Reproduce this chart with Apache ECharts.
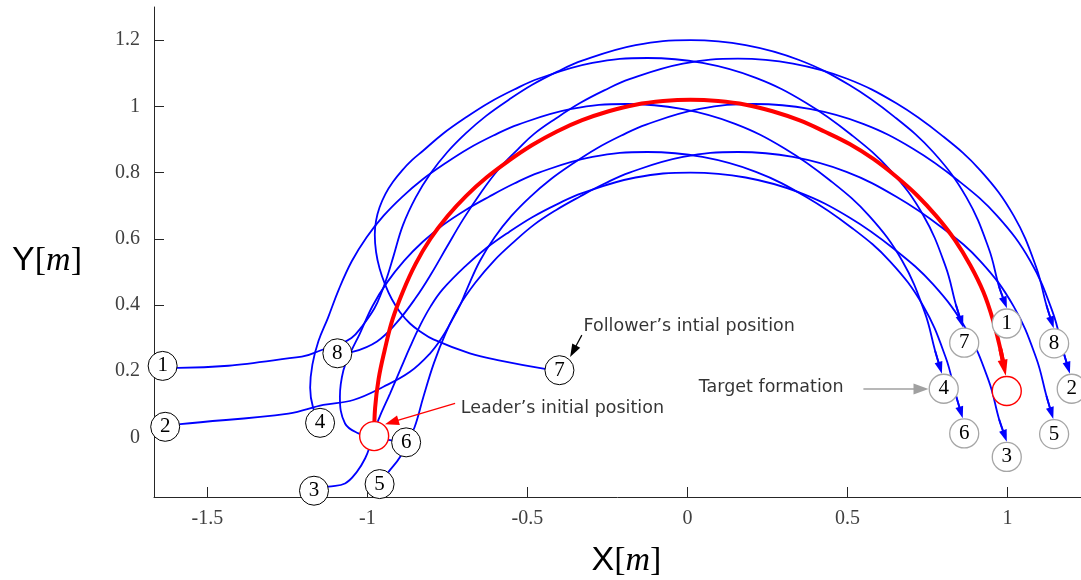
<!DOCTYPE html>
<html><head><meta charset="utf-8">
<script src="https://cdn.jsdelivr.net/npm/echarts/dist/echarts.min.js"></script>
<style>html,body{margin:0;padding:0;background:#fff}#c{width:1081px;height:580px}</style>
</head><body><div id="c"></div>
<script>
// ---- tick labels ----
const xTicks = [-1.5, -1, -0.5, 0, 0.5, 1];
const yTicks = [0, 0.2, 0.4, 0.6, 0.8, 1, 1.2];

// ---- leader trajectory ----
const leaderPath = [[-0.979,0.004],[-0.976,0.089],[-0.965,0.177],[-0.946,0.264],[-0.922,0.355],[-0.889,0.441],[-0.849,0.525],[-0.803,0.60],[-0.75,0.668],[-0.692,0.729],[-0.628,0.785],[-0.558,0.836],[-0.485,0.883],[-0.408,0.924],[-0.329,0.958],[-0.246,0.985],[-0.162,1.005],[-0.076,1.016],[0.01,1.02],[0.096,1.016],[0.182,1.005],[0.266,0.985],[0.349,0.958],[0.428,0.924],[0.507,0.886],[0.581,0.841],[0.652,0.788],[0.719,0.73],[0.78,0.666],[0.836,0.596],[0.884,0.52],[0.925,0.439],[0.955,0.354],[0.978,0.267],[0.99,0.21]];

// ---- follower trajectories ----
const path1 = [[-1.64,0.216],[-1.591,0.21],[-1.205,0.244],[-1.143,0.264],[-1.094,0.279],[-1.05,0.30],[-1.018,0.334],[-0.978,0.39],[-0.955,0.44],[-0.935,0.495],[-0.919,0.546],[-0.889,0.641],[-0.849,0.725],[-0.803,0.797],[-0.75,0.862],[-0.692,0.919],[-0.628,0.972],[-0.558,1.02],[-0.485,1.065],[-0.408,1.104],[-0.329,1.138],[-0.162,1.185],[0.01,1.2],[0.182,1.185],[0.349,1.14],[0.505,1.065],[0.646,0.969],[0.768,0.862],[0.872,0.725],[0.942,0.57],[0.974,0.455],[0.992,0.407]];
const path2 = [[-1.632,0.032],[-1.585,0.04],[-1.247,0.072],[-1.138,0.098],[-1.044,0.113],[-0.95,0.153],[-0.867,0.198],[-0.804,0.254],[-0.768,0.30],[-0.738,0.35],[-0.71,0.40],[-0.689,0.448],[-0.649,0.532],[-0.603,0.604],[-0.55,0.669],[-0.492,0.726],[-0.428,0.779],[-0.358,0.827],[-0.285,0.872],[-0.208,0.911],[-0.129,0.945],[0.038,0.992],[0.21,1.007],[0.382,0.992],[0.549,0.947],[0.705,0.872],[0.846,0.776],[0.968,0.669],[1.072,0.532],[1.142,0.377],[1.174,0.262],[1.19,0.21]];
const path3 = [[-1.167,-0.161],[-1.122,-0.149],[-1.07,-0.139],[-1.033,-0.104],[-1.007,-0.063],[-0.99,-0.02],[-0.966,0.052],[-0.929,0.133],[-0.895,0.21],[-0.866,0.275],[-0.836,0.337],[-0.803,0.395],[-0.765,0.447],[-0.692,0.519],[-0.628,0.572],[-0.558,0.62],[-0.485,0.665],[-0.408,0.704],[-0.329,0.738],[-0.162,0.785],[0.01,0.8],[0.182,0.785],[0.349,0.74],[0.505,0.665],[0.646,0.569],[0.768,0.462],[0.872,0.325],[0.942,0.17],[0.974,0.055],[0.992,0.004]];
const path4 = [[-1.148,0.044],[-1.17,0.09],[-1.179,0.15],[-1.172,0.22],[-1.153,0.291],[-1.123,0.362],[-1.089,0.448],[-1.049,0.532],[-1.003,0.604],[-0.95,0.669],[-0.892,0.726],[-0.828,0.779],[-0.758,0.827],[-0.685,0.872],[-0.608,0.911],[-0.529,0.945],[-0.362,0.992],[-0.19,1.007],[-0.018,0.992],[0.149,0.947],[0.305,0.872],[0.446,0.776],[0.568,0.669],[0.672,0.532],[0.742,0.377],[0.774,0.262],[0.79,0.21]];
const path5 = [[-0.962,-0.141],[-0.934,-0.104],[-0.898,-0.059],[-0.875,-0.01],[-0.853,0.03],[-0.825,0.123],[-0.792,0.225],[-0.757,0.311],[-0.714,0.395],[-0.663,0.467],[-0.606,0.532],[-0.544,0.589],[-0.48,0.642],[-0.41,0.687],[-0.337,0.727],[-0.26,0.766],[-0.181,0.80],[-0.014,0.847],[0.158,0.862],[0.33,0.847],[0.497,0.802],[0.653,0.727],[0.794,0.635],[0.916,0.532],[1.02,0.395],[1.09,0.24],[1.122,0.125],[1.138,0.073]];
const path6 = [[-0.879,-0.015],[-0.98,0.0],[-1.028,0.012],[-1.07,0.042],[-1.086,0.123],[-1.075,0.203],[-1.05,0.262],[-1.024,0.313],[-0.984,0.397],[-0.938,0.469],[-0.885,0.534],[-0.827,0.591],[-0.763,0.642],[-0.693,0.687],[-0.62,0.727],[-0.543,0.766],[-0.464,0.80],[-0.297,0.847],[-0.125,0.862],[0.047,0.847],[0.214,0.802],[0.37,0.727],[0.511,0.635],[0.633,0.532],[0.737,0.397],[0.807,0.242],[0.839,0.127],[0.855,0.075]];
const path7 = [[-0.4,0.203],[-0.45,0.208],[-0.585,0.232],[-0.68,0.254],[-0.794,0.296],[-0.835,0.32],[-0.867,0.344],[-0.898,0.378],[-0.924,0.418],[-0.945,0.462],[-0.962,0.51],[-0.973,0.56],[-0.977,0.612],[-0.973,0.655],[-0.962,0.695],[-0.944,0.735],[-0.92,0.772],[-0.892,0.806],[-0.86,0.838],[-0.827,0.865],[-0.763,0.918],[-0.693,0.966],[-0.62,1.011],[-0.543,1.05],[-0.464,1.084],[-0.297,1.131],[-0.125,1.146],[0.047,1.131],[0.214,1.086],[0.37,1.011],[0.511,0.915],[0.633,0.808],[0.737,0.671],[0.807,0.516],[0.839,0.401],[0.856,0.349]];
const path8 = [[-1.094,0.254],[-1.044,0.259],[-0.97,0.29],[-0.91,0.345],[-0.85,0.42],[-0.80,0.495],[-0.752,0.575],[-0.70,0.66],[-0.645,0.74],[-0.59,0.81],[-0.53,0.87],[-0.48,0.916],[-0.41,0.964],[-0.337,1.009],[-0.26,1.048],[-0.181,1.082],[-0.014,1.129],[0.158,1.144],[0.33,1.129],[0.497,1.084],[0.653,1.009],[0.794,0.913],[0.916,0.806],[1.02,0.669],[1.09,0.514],[1.122,0.399],[1.139,0.347]];
const followerPaths = [path1, path2, path3, path4, path5, path6, path7, path8];

// ---- robots ----
const robotIds = ['1','2','3','4','5','6','7','8'];
const initialPos = [[-1.64,0.216],[-1.632,0.032],[-1.167,-0.161],[-1.148,0.044],[-0.962,-0.141],[-0.879,-0.015],[-0.4,0.203],[-1.094,0.254]];
const targetPos = [[0.998,0.344],[1.201,0.147],[0.998,-0.059],[0.801,0.147],[1.146,0.01],[0.865,0.012],[0.865,0.286],[1.146,0.284]];
const leaderPos = [[-0.979,0.004],[0.998,0.14]];

// ---- annotations ----
const annotTexts = ['Follower\u2019s intial position', 'Leader\u2019s initial position', 'Target formation'];
const annotTextAt = [[-0.326,0.336],[-0.71,0.088],[0.034,0.152]];
const annotFrom = [[-0.33,0.309],[-0.726,0.103],[0.55,0.146]];
const annotTo = [[-0.357,0.26],[-0.924,0.046],[0.73,0.146]];

const BLUE = '#0000ff', RED = '#ff0000';
const chart = echarts.init(document.getElementById('c'), null, {renderer:'canvas', width:1081, height:580});

function pathSeries(path, color, width, arrow, z) {
  const n = path.length;
  return {
    type:'line', data:path, smooth:0.4, showSymbol:false, symbol:'none', z:z,
    lineStyle:{color:color, width:width}, silent:true, animation:false,
    emphasis:{disabled:true},
    markLine:{silent:true, animation:false, symbol:['none','triangle'], symbolSize:[0,12],
      label:{show:false}, emphasis:{disabled:true},
      lineStyle:{color:color, width:width, type:'solid'},
      data:[[{coord:path[n-2]},{coord:path[n-1], symbolSize:arrow}]]}
  };
}
function circleSeries(pos, border, bw, labels, z) {
  return {
    type:'scatter', z:z, clip:false, silent:true, animation:false,
    data: pos.map((p,i)=>({value:p, name: labels ? labels[i] : ''})),
    symbol:'circle', symbolSize:29,
    itemStyle:{color:'#ffffff', borderColor:border, borderWidth:bw, opacity:1},
    label:{show:!!labels, position:'inside', formatter:'{b}', fontFamily:'Liberation Serif', fontSize:21, color:'#000'},
    emphasis:{disabled:true}
  };
}
function annotSeries(i, color, width, size) {
  return {
    type:'scatter', z:8, clip:false, silent:true, animation:false,
    data:[{value:annotTextAt[i], name:annotTexts[i]}], symbolSize:1,
    itemStyle:{color:'rgba(0,0,0,0)'},
    label:{show:true, position:'right', distance:0, formatter:'{b}', fontFamily:'DejaVu Sans', fontSize:17.5, color:'#000'},
    emphasis:{disabled:true},
    markLine:{silent:true, animation:false, symbol:['none','triangle'],
      label:{show:false}, emphasis:{disabled:true},
      lineStyle:{color:color, width:width, type:'solid'},
      data:[[{coord:annotFrom[i]},{coord:annotTo[i], symbolSize:size}]]}
  };
}

const series = [];
followerPaths.forEach(p => series.push(pathSeries(p, BLUE, 1.8, [8,12], 2)));
series.push(pathSeries(leaderPath, RED, 4, [10,16], 3));
series.push(circleSeries(initialPos, '#000000', 1, robotIds, 5));
series.push(circleSeries(targetPos, '#a6a6a6', 1.3, robotIds, 5));
series.push(circleSeries(leaderPos, RED, 1.4, null, 5));
series.push(annotSeries(0, '#000000', 1.2, [9,13]));
series.push(annotSeries(1, RED, 1.2, [10,14]));
series.push(annotSeries(2, '#a0a0a0', 1.5, [11,15]));

const axisCol = '#262626';
const richName = {
  s:{fontFamily:'Liberation Sans', fontSize:34, color:'#000'},
  r:{fontFamily:'Liberation Serif', fontSize:34, color:'#000'},
  i:{fontFamily:'Liberation Serif', fontStyle:'italic', fontSize:34, color:'#000'}
};
chart.setOption({
  animation:false,
  backgroundColor:'#ffffff',
  textStyle:{fontFamily:'Liberation Serif'},
  grid:{left:154, top:7, right:0, bottom:83, containLabel:false, outerBoundsMode:'none'},
  xAxis:{type:'value', min:-1.667, max:1.23, scale:true,
    axisLine:{show:true, onZero:false, lineStyle:{color:axisCol, width:1}},
    axisTick:{show:true, inside:true, length:10, customValues:xTicks, lineStyle:{color:axisCol}},
    axisLabel:{show:true, customValues:xTicks, margin:12, fontFamily:'Liberation Serif', fontSize:20, color:'#404040'},
    splitLine:{show:false},
    name:'{s|X}{r|[}{i|m}{r|]}', nameLocation:'middle', nameGap:47,
    nameTextStyle:{rich:richName, padding:[0,0,0,18]}
  },
  yAxis:{type:'value', min:-0.18, max:1.3, scale:true,
    axisLine:{show:true, onZero:false, lineStyle:{color:axisCol, width:1}},
    axisTick:{show:true, inside:true, length:10, customValues:yTicks, lineStyle:{color:axisCol}},
    axisLabel:{show:true, customValues:yTicks, margin:14, fontFamily:'Liberation Serif', fontSize:20, color:'#404040'},
    splitLine:{show:false},
    name:'{s|Y}{r|[}{i|m}{r|]}', nameLocation:'middle', nameGap:72, nameRotate:0,
    nameTextStyle:{rich:richName, padding:[18,0,0,0]}
  },
  series:series
});
</script>
</body></html>
